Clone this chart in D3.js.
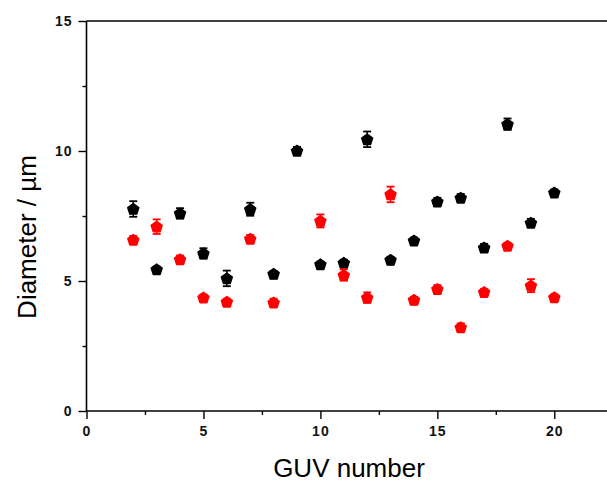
<!DOCTYPE html>
<html>
<head>
<meta charset="utf-8">
<script src="https://cdn.jsdelivr.net/npm/d3@7"></script>
<style>
  html, body { margin: 0; padding: 0; background: #fff; }
  svg { display: block; }
</style>
</head>
<body>
<svg id="chart" width="607" height="482"></svg>
<script>
// ---- data ----
const guvNumbers = [2, 3, 4, 5, 6, 7, 8, 9, 10, 11, 12, 13, 14, 15, 16, 17, 18, 19, 20];
const blackValues = [7.77, 5.45, 7.6, 6.06, 5.1, 7.76, 5.27, 10.01, 5.64, 5.7, 10.45, 5.81, 6.55, 8.05, 8.2, 6.28, 11.03, 7.24, 8.4];
const blackErrors = [0.3, 0.1, 0.2, 0.2, 0.3, 0.25, 0.12, 0.15, 0.1, 0.12, 0.3, 0.12, 0.12, 0.15, 0.15, 0.15, 0.22, 0.15, 0.12];
const redNumbers = [2, 3, 4, 5, 6, 7, 8, 10, 11, 12, 13, 14, 15, 16, 17, 18, 19, 20];
const redValues = [6.58, 7.09, 5.83, 4.36, 4.2, 6.62, 4.17, 7.31, 5.23, 4.36, 8.33, 4.27, 4.69, 3.22, 4.57, 6.35, 4.82, 4.37];
const redErrors = [0.15, 0.28, 0.15, 0.12, 0.12, 0.15, 0.15, 0.25, 0.22, 0.2, 0.3, 0.12, 0.15, 0.15, 0.12, 0.12, 0.25, 0.12];
const xMajorTicks = [0, 5, 10, 15, 20];
const xMinorTicks = [2.5, 7.5, 12.5, 17.5];
const yMajorTicks = [0, 5, 10, 15];
const yMinorTicks = [2.5, 7.5, 12.5];
const xTitle = "GUV number";
const yTitle = "Diameter / \u00b5m";

// ---- layout ----
const svg = d3.select("#chart");
const plotLeft = 86.5, plotTop = 21, plotBottom = 411;
const x = d3.scaleLinear().domain([0, 22.5]).range([plotLeft, plotLeft + 22.5 * 23.39]);
const y = d3.scaleLinear().domain([0, 15]).range([plotBottom, plotTop]);

const fontFam = "Arial, 'Liberation Sans', sans-serif";

// frame (top line)
svg.append("line")
  .attr("x1", plotLeft).attr("x2", 607).attr("y1", plotTop).attr("y2", plotTop)
  .attr("stroke", "#000").attr("stroke-width", 1.6);

// x axis
const xAxis = d3.axisBottom(x).tickValues(xMajorTicks).tickSize(8).tickPadding(7).tickFormat(d3.format("d"));
const gx = svg.append("g").attr("transform", `translate(0,${plotBottom})`).call(xAxis);
gx.select(".domain").attr("stroke-width", 1.6).attr("d", `M${plotLeft},0H612`);
const gxMinor = svg.append("g").attr("transform", `translate(0,${plotBottom})`)
  .call(d3.axisBottom(x).tickValues(xMinorTicks).tickSize(4).tickFormat(""));
gxMinor.select(".domain").remove();

// y axis
const yAxis = d3.axisLeft(y).tickValues(yMajorTicks).tickSize(8).tickPadding(6).tickFormat(d3.format("d"));
const gy = svg.append("g").attr("transform", `translate(${plotLeft},0)`).call(yAxis);
gy.select(".domain").attr("stroke-width", 1.6).attr("d", `M0,${plotBottom}V${plotTop}`);
const gyMinor = svg.append("g").attr("transform", `translate(${plotLeft},0)`)
  .call(d3.axisLeft(y).tickValues(yMinorTicks).tickSize(4).tickFormat(""));
gyMinor.select(".domain").remove();

svg.selectAll(".tick line").attr("stroke", "#000").attr("stroke-width", 1.4);
svg.selectAll(".tick text")
  .attr("font-family", fontFam).attr("font-size", 14).attr("font-weight", "bold")
  .attr("fill", "#111").attr("letter-spacing", 1);

// axis titles
svg.append("text")
  .attr("x", 349).attr("y", 477)
  .attr("text-anchor", "middle")
  .attr("font-family", fontFam).attr("font-size", 26)
  .attr("fill", "#000")
  .text(xTitle);
svg.append("text")
  .attr("transform", "translate(36,237) rotate(-90)")
  .attr("text-anchor", "middle")
  .attr("font-family", fontFam).attr("font-size", 26)
  .attr("fill", "#000")
  .text(yTitle);

// pentagon symbol
const pentagon = {
  draw(context, size) {
    const r = Math.sqrt(size / 2.3776);
    for (let i = 0; i < 5; i++) {
      const a = -Math.PI / 2 + i * 2 * Math.PI / 5;
      const px = r * Math.cos(a), py = r * Math.sin(a);
      if (i === 0) context.moveTo(px, py); else context.lineTo(px, py);
    }
    context.closePath();
  }
};
const sym = d3.symbol().type(pentagon).size(80);

function drawSeries(xs, vals, errs, color) {
  const data = xs.map((d, i) => ({ gx: d, v: vals[i], e: errs[i] }));
  const g = svg.append("g");
  const eb = g.selectAll("g.eb").data(data).join("g").attr("class", "eb");
  eb.append("line")
    .attr("x1", d => x(d.gx)).attr("x2", d => x(d.gx))
    .attr("y1", d => y(d.v - d.e)).attr("y2", d => y(d.v + d.e))
    .attr("stroke", color).attr("stroke-width", 1.5);
  eb.append("line")
    .attr("x1", d => x(d.gx) - 4).attr("x2", d => x(d.gx) + 4)
    .attr("y1", d => y(d.v - d.e)).attr("y2", d => y(d.v - d.e))
    .attr("stroke", color).attr("stroke-width", 1.8);
  eb.append("line")
    .attr("x1", d => x(d.gx) - 4).attr("x2", d => x(d.gx) + 4)
    .attr("y1", d => y(d.v + d.e)).attr("y2", d => y(d.v + d.e))
    .attr("stroke", color).attr("stroke-width", 1.8);
  g.selectAll("path.pt").data(data).join("path").attr("class", "pt")
    .attr("transform", d => `translate(${x(d.gx)},${y(d.v) + 0.5})`)
    .attr("d", sym)
    .attr("fill", color).attr("stroke", color).attr("stroke-width", 1.4)
    .attr("stroke-linejoin", "round");
}

drawSeries(guvNumbers, blackValues, blackErrors, "#000");
drawSeries(redNumbers, redValues, redErrors, "#f00");
</script>
</body>
</html>
